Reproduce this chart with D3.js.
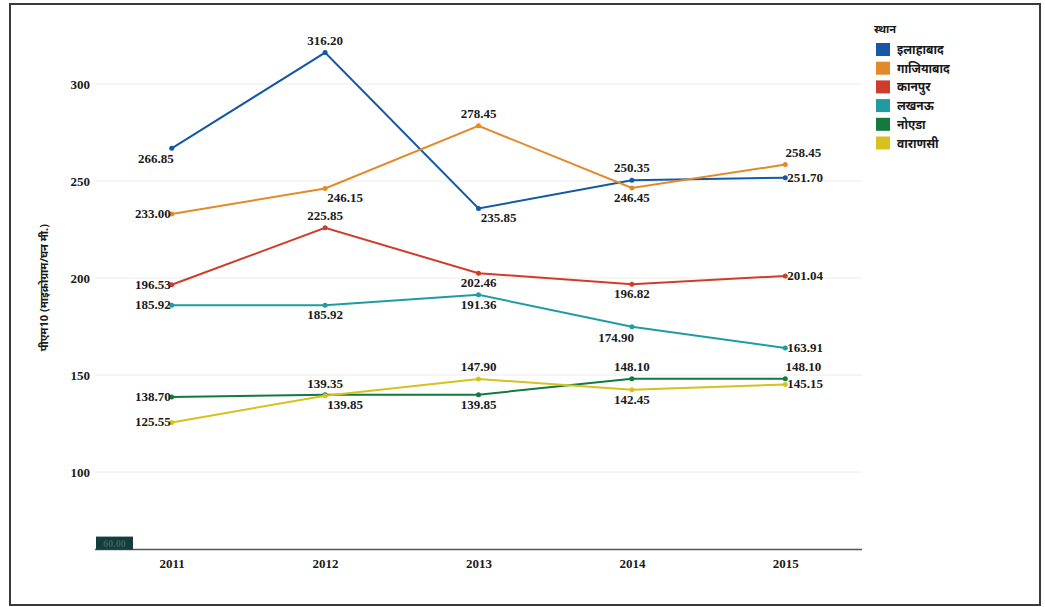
<!DOCTYPE html>
<html>
<head>
<meta charset="utf-8">
<script src="https://cdn.jsdelivr.net/npm/d3@7"></script>
<style>
  html, body { margin: 0; padding: 0; background: #fff; }
  svg { display: block; }
  .num { font-family: "Liberation Serif", "Times New Roman", serif; font-weight: bold; font-size: 13px; fill: #1a1a1a; }
  .hi { font-family: "Noto Sans", "Liberation Serif", "DejaVu Sans", sans-serif; font-weight: bold; fill: #1a1a1a; }
</style>
</head>
<body>
<svg id="chart" width="1045" height="607"></svg>
<script>
// PM10 readings per city, 2011–2015
const years = ["2011", "2012", "2013", "2014", "2015"];
const cities = ["इलाहाबाद", "गाजियाबाद", "कानपुर", "लखनऊ", "नोएडा", "वाराणसी"];
const allahabad = [266.85, 316.20, 235.85, 250.35, 251.70];
const ghaziabad = [233.00, 246.15, 278.45, 246.45, 258.45];
const kanpur    = [196.53, 225.85, 202.46, 196.82, 201.04];
const lucknow   = [185.92, 185.92, 191.36, 174.90, 163.91];
const noida     = [138.70, 139.85, 139.85, 148.10, 148.10];
const varanasi  = [125.55, 139.35, 147.90, 142.45, 145.15];
const yTicks = [100, 150, 200, 250, 300];
const yMin = 60, yMax = 330;
const legendTitle = "स्थान";
const yTitle = "पीएम10 (माइक्रोग्राम/घन मी.)";

const seriesValues = [allahabad, ghaziabad, kanpur, lucknow, noida, varanasi];
const colors = ["#1657a6", "#e4892a", "#cf3d2a", "#1f9ca2", "#127a3c", "#d6c11e"];

// where each value label sits around its point
const labelPlacement = [
  ["bl", "a", "br", "a", "r"],
  ["l", "br", "a", "b", "ar"],
  ["l", "a", "b", "b", "r"],
  ["l", "b", "b", "bl", "r"],
  ["l", "br", "b", "a", "ar"],
  ["l", "a", "a", "b", "r"]
];
const placeStyle = {
  l:  { anchor: "end",    dx: -1, dy: 4 },
  r:  { anchor: "start",  dx: 2,  dy: 4 },
  a:  { anchor: "middle", dx: 0,  dy: -8 },
  b:  { anchor: "middle", dx: 0,  dy: 14 },
  ar: { anchor: "middle", dx: 18, dy: -8 },
  br: { anchor: "middle", dx: 20, dy: 14 },
  bl: { anchor: "end",    dx: 2,  dy: 15 }
};

const svg = d3.select("#chart");

// outer frame
svg.append("rect")
  .attr("x", 10).attr("y", 4).attr("width", 1030).attr("height", 601)
  .attr("fill", "#fff").attr("stroke", "#3a3a3a").attr("stroke-width", 2);

const x = d3.scalePoint().domain(years).range([95, 862]).padding(0.5);
const y = d3.scaleLinear().domain([yMin, yMax]).range([549.6, 25.8]);

// horizontal gridlines
svg.append("g").selectAll("line").data(yTicks).join("line")
  .attr("x1", 95).attr("x2", 862)
  .attr("y1", d => y(d)).attr("y2", d => y(d))
  .attr("stroke", "#ececec").attr("stroke-width", 1);

// y axis (labels only)
const yAxis = svg.append("g").attr("transform", "translate(92,0)")
  .call(d3.axisLeft(y).tickValues(yTicks).tickSize(0).tickPadding(2));
yAxis.select(".domain").remove();
yAxis.selectAll("text").attr("class", "num").attr("dy", "0.32em");

// x axis
const xAxis = svg.append("g").attr("transform", `translate(0,${y(yMin)})`)
  .call(d3.axisBottom(x).tickSize(0).tickPadding(9));
xAxis.select(".domain").attr("d", `M95,0H862`).attr("stroke", "#555").attr("stroke-width", 1.5);
xAxis.selectAll("text").attr("class", "num").attr("dy", "0.71em");

// minimum-value tag at the axis origin
svg.append("rect")
  .attr("x", 96).attr("y", y(yMin) - 13).attr("width", 37).attr("height", 13)
  .attr("fill", "#143d3b");
svg.append("text")
  .attr("x", 114.5).attr("y", y(yMin) - 3)
  .attr("text-anchor", "middle").attr("class", "num")
  .style("font-size", "10px").style("fill", "#3d625f")
  .text(yMin.toFixed(2));

// y title
svg.append("text")
  .attr("class", "hi")
  .attr("transform", `translate(48,${y(195)}) rotate(-90)`)
  .attr("text-anchor", "middle")
  .style("font-size", "11px")
  .text(yTitle);

// lines, points and value labels
const line = d3.line().x((d, i) => x(years[i])).y(d => y(d));

seriesValues.forEach((vals, s) => {
  const g = svg.append("g");
  g.append("path").datum(vals)
    .attr("d", line).attr("fill", "none")
    .attr("stroke", colors[s]).attr("stroke-width", 2);
  g.selectAll("circle").data(vals).join("circle")
    .attr("cx", (d, i) => x(years[i])).attr("cy", d => y(d))
    .attr("r", 2.5).attr("fill", colors[s]);
});

seriesValues.forEach((vals, s) => {
  svg.append("g").selectAll("text").data(vals).join("text")
    .attr("class", "num")
    .attr("x", (d, i) => x(years[i]) + placeStyle[labelPlacement[s][i]].dx)
    .attr("y", (d, i) => y(d) + placeStyle[labelPlacement[s][i]].dy)
    .attr("text-anchor", (d, i) => placeStyle[labelPlacement[s][i]].anchor)
    .text(d => d.toFixed(2));
});

// legend
const legend = svg.append("g").attr("transform", "translate(874,0)");
legend.append("text").attr("class", "hi")
  .attr("x", 0).attr("y", 33).style("font-size", "11px").text(legendTitle);
const rows = legend.selectAll("g.row").data(cities).join("g")
  .attr("class", "row")
  .attr("transform", (d, i) => `translate(2,${43 + i * 18.7})`);
rows.append("rect").attr("width", 14).attr("height", 13)
  .attr("fill", (d, i) => colors[i]);
rows.append("text").attr("class", "hi")
  .attr("x", 21).attr("y", 11).style("font-size", "12px")
  .text(d => d);
</script>
</body>
</html>
